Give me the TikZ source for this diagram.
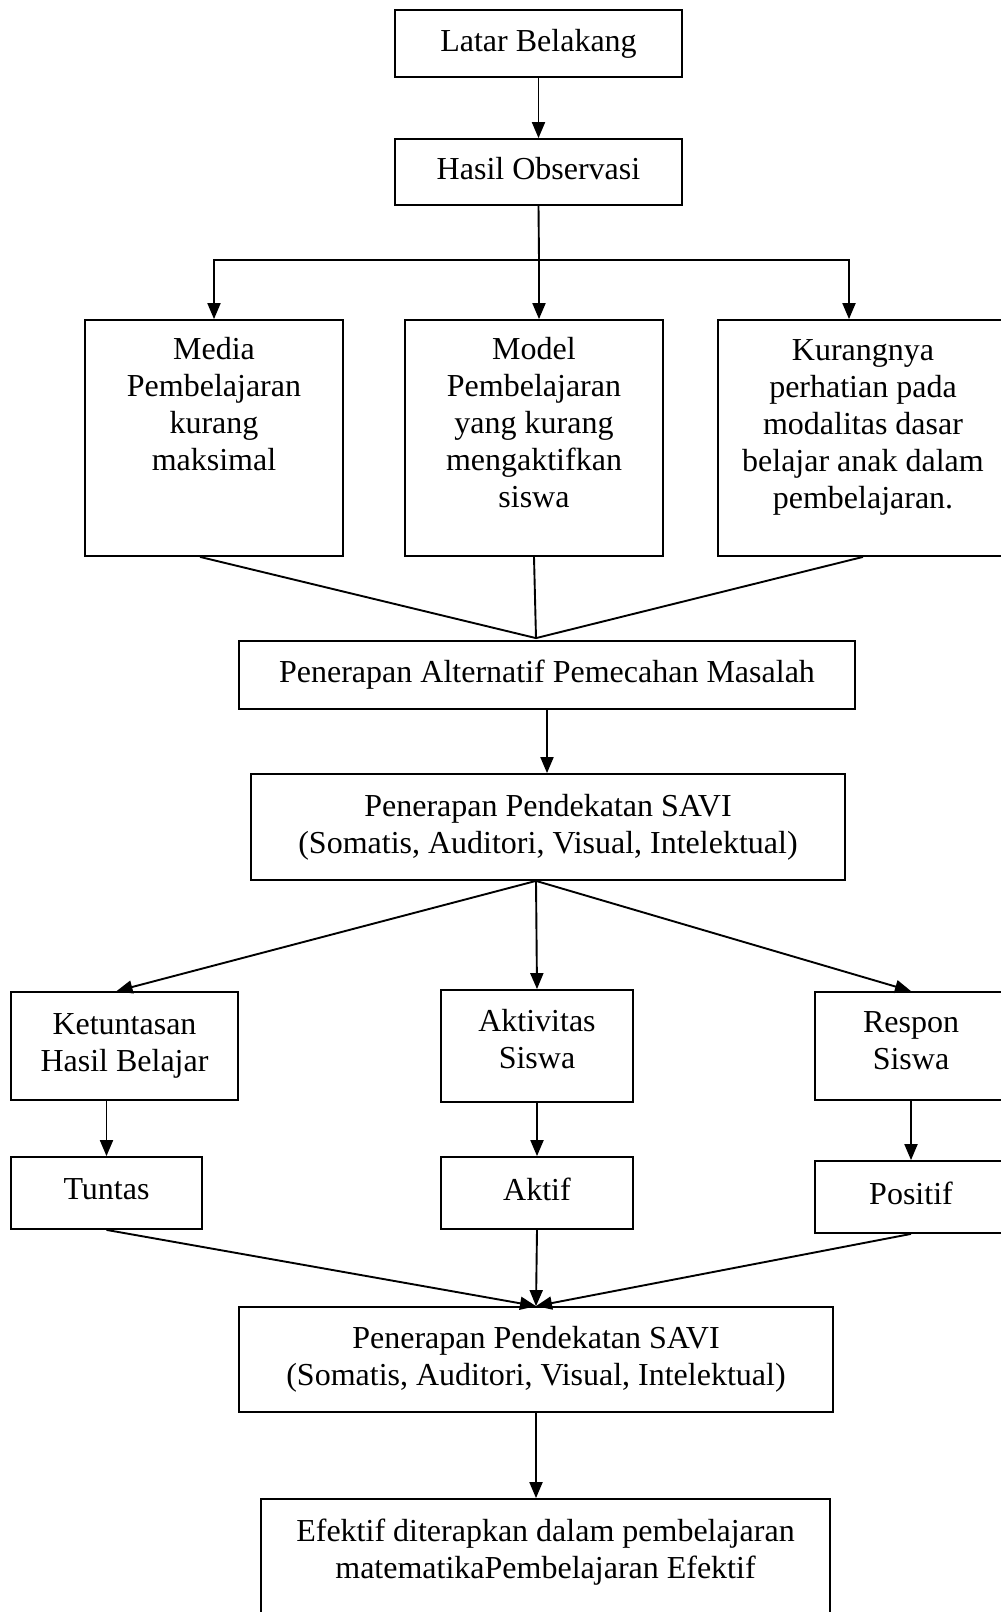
\documentclass[tikz,border=0pt]{standalone}
\usepackage{fontspec}
\setmainfont{Liberation Serif}
\usepackage{tikz}
\usetikzlibrary{
arrows.meta,
positioning,
calc
}

\begin{document}
\begin{tikzpicture}[
    x=1pt,
    y=-1pt,
    font=\fontsize{32}{37}\selectfont,
    box/.style={draw, line width=1.8pt, inner sep=0pt, align=center},
    txt/.style={inner sep=0pt, align=center},
    link/.style={line width=1.9pt},
    arrow/.style={line width=1.9pt, -{Triangle[length=16pt,width=13pt]}}
]

\useasboundingbox (0,0) rectangle (1001,1612);

% =========================
% TOP CHAIN
% =========================
\node[
    box,
    minimum width=287pt,
    minimum height=67pt
]
(latar) at (538.5,43.5)
{Latar Belakang};

\node[
    box,
    text depth=8pt,
    minimum width=287pt,
    minimum height=66pt
]
(hasil) at (538.5,172)
{Hasil Observasi};

\draw[arrow] (latar.south) -- (hasil.north);

% =========================
% PROBLEM BOXES
% =========================
\node[
    box,
    minimum width=258pt,
    minimum height=236pt
]
(media) at (214,438) {};

\node[txt] (mediatext) at (214,404)
{Media\\Pembelajaran\\kurang\\maksimal};

\node[
    box,
    minimum width=258pt,
    minimum height=236pt
]
(model) at (534,438) {};

\node[txt] (modeltext) at (534,423)
{Model\\Pembelajaran\\yang kurang\\mengaktifkan\\siswa};

\node[
    box,
    minimum width=290pt,
    minimum height=236pt
]
(kurang) at (863,438) {};

\node[txt] (kurangtext) at (863,427)
{Kurangnya\\perhatian pada\\modalitas dasar\\belajar anak dalam\\pembelajaran.};

% fork below Hasil Observasi
\coordinate (fork) at (539,260);
\draw[link] (hasil.south) -- (fork);
\draw[arrow] (fork) -- (fork |- model.north);
\draw[arrow] (fork) -| (media.north);
\draw[arrow] (fork) -| ([xshift=-14pt]kurang.north);

% =========================
% ALTERNATIVE
% =========================
\node[
    box,
    minimum width=616pt,
    minimum height=68pt
]
(alt) at (547,675)
{Penerapan Alternatif Pemecahan Masalah};

\coordinate (meetA) at ([xshift=-11pt,yshift=2pt]alt.north);
\draw[link] ([xshift=-14pt]media.south) -- (meetA);
\draw[link] (model.south) -- (meetA);
\draw[link] (kurang.south) -- (meetA);

\node[
    box,
    minimum width=594pt,
    minimum height=106pt
]
(saviA) at (548,827)
{Penerapan Pendekatan SAVI\\(Somatis, Auditori, Visual, Intelektual)};

\draw[arrow] (alt.south) -- (alt.south |- saviA.north);

% =========================
% OUTCOMES
% =========================
\node[
    box,
    minimum width=227pt,
    minimum height=108pt
]
(tuntasan) at (124.5,1046)
{Ketuntasan\\Hasil Belajar};

\node[
    box,
    text depth=14pt,
    minimum width=192pt,
    minimum height=112pt
]
(aktivitas) at (537,1046)
{Aktivitas\\Siswa};

\node[
    box,
    text depth=10pt,
    minimum width=192pt,
    minimum height=108pt
]
(respon) at (911,1046)
{Respon\\Siswa};

\coordinate (splitB) at ([xshift=-12pt]saviA.south);
\draw[arrow] (splitB) -- ([xshift=-8pt]tuntasan.north);
\draw[arrow] (splitB) -- (aktivitas.north);
\draw[arrow] (splitB) -- (respon.north);

\node[
    box,
    text depth=8pt,
    minimum width=191pt,
    minimum height=72pt
]
(tuntas) at (106.5,1193)
{Tuntas};

\node[
    box,
    text depth=8pt,
    minimum width=192pt,
    minimum height=72pt
]
(aktif) at (537,1193)
{Aktif};

\node[
    box,
    text depth=8pt,
    minimum width=192pt,
    minimum height=72pt
]
(positif) at (911,1197)
{Positif};

\draw[arrow] (tuntas.north |- tuntasan.south) -- (tuntas.north);
\draw[arrow] (aktivitas.south) -- (aktif.north);
\draw[arrow] (respon.south) -- (positif.north);

% =========================
% RESULT
% =========================
\node[
    box,
    minimum width=594pt,
    minimum height=105pt
]
(saviB) at (536,1359.5)
{Penerapan Pendekatan SAVI\\(Somatis, Auditori, Visual, Intelektual)};

\draw[arrow] (tuntas.south) -- (saviB.north);
\draw[arrow] (aktif.south) -- (saviB.north);
\draw[arrow] (positif.south) -- (saviB.north);

\node[
    box,
    minimum width=569pt,
    minimum height=122pt
]
(efektif) at (545.5,1560) {};

\node[txt] (efektiftext) at (545.5,1552)
{Efektif diterapkan dalam pembelajaran\\matematikaPembelajaran Efektif};

\draw[arrow] (saviB.south) -- (saviB.south |- efektif.north);

\end{tikzpicture}
\end{document}
